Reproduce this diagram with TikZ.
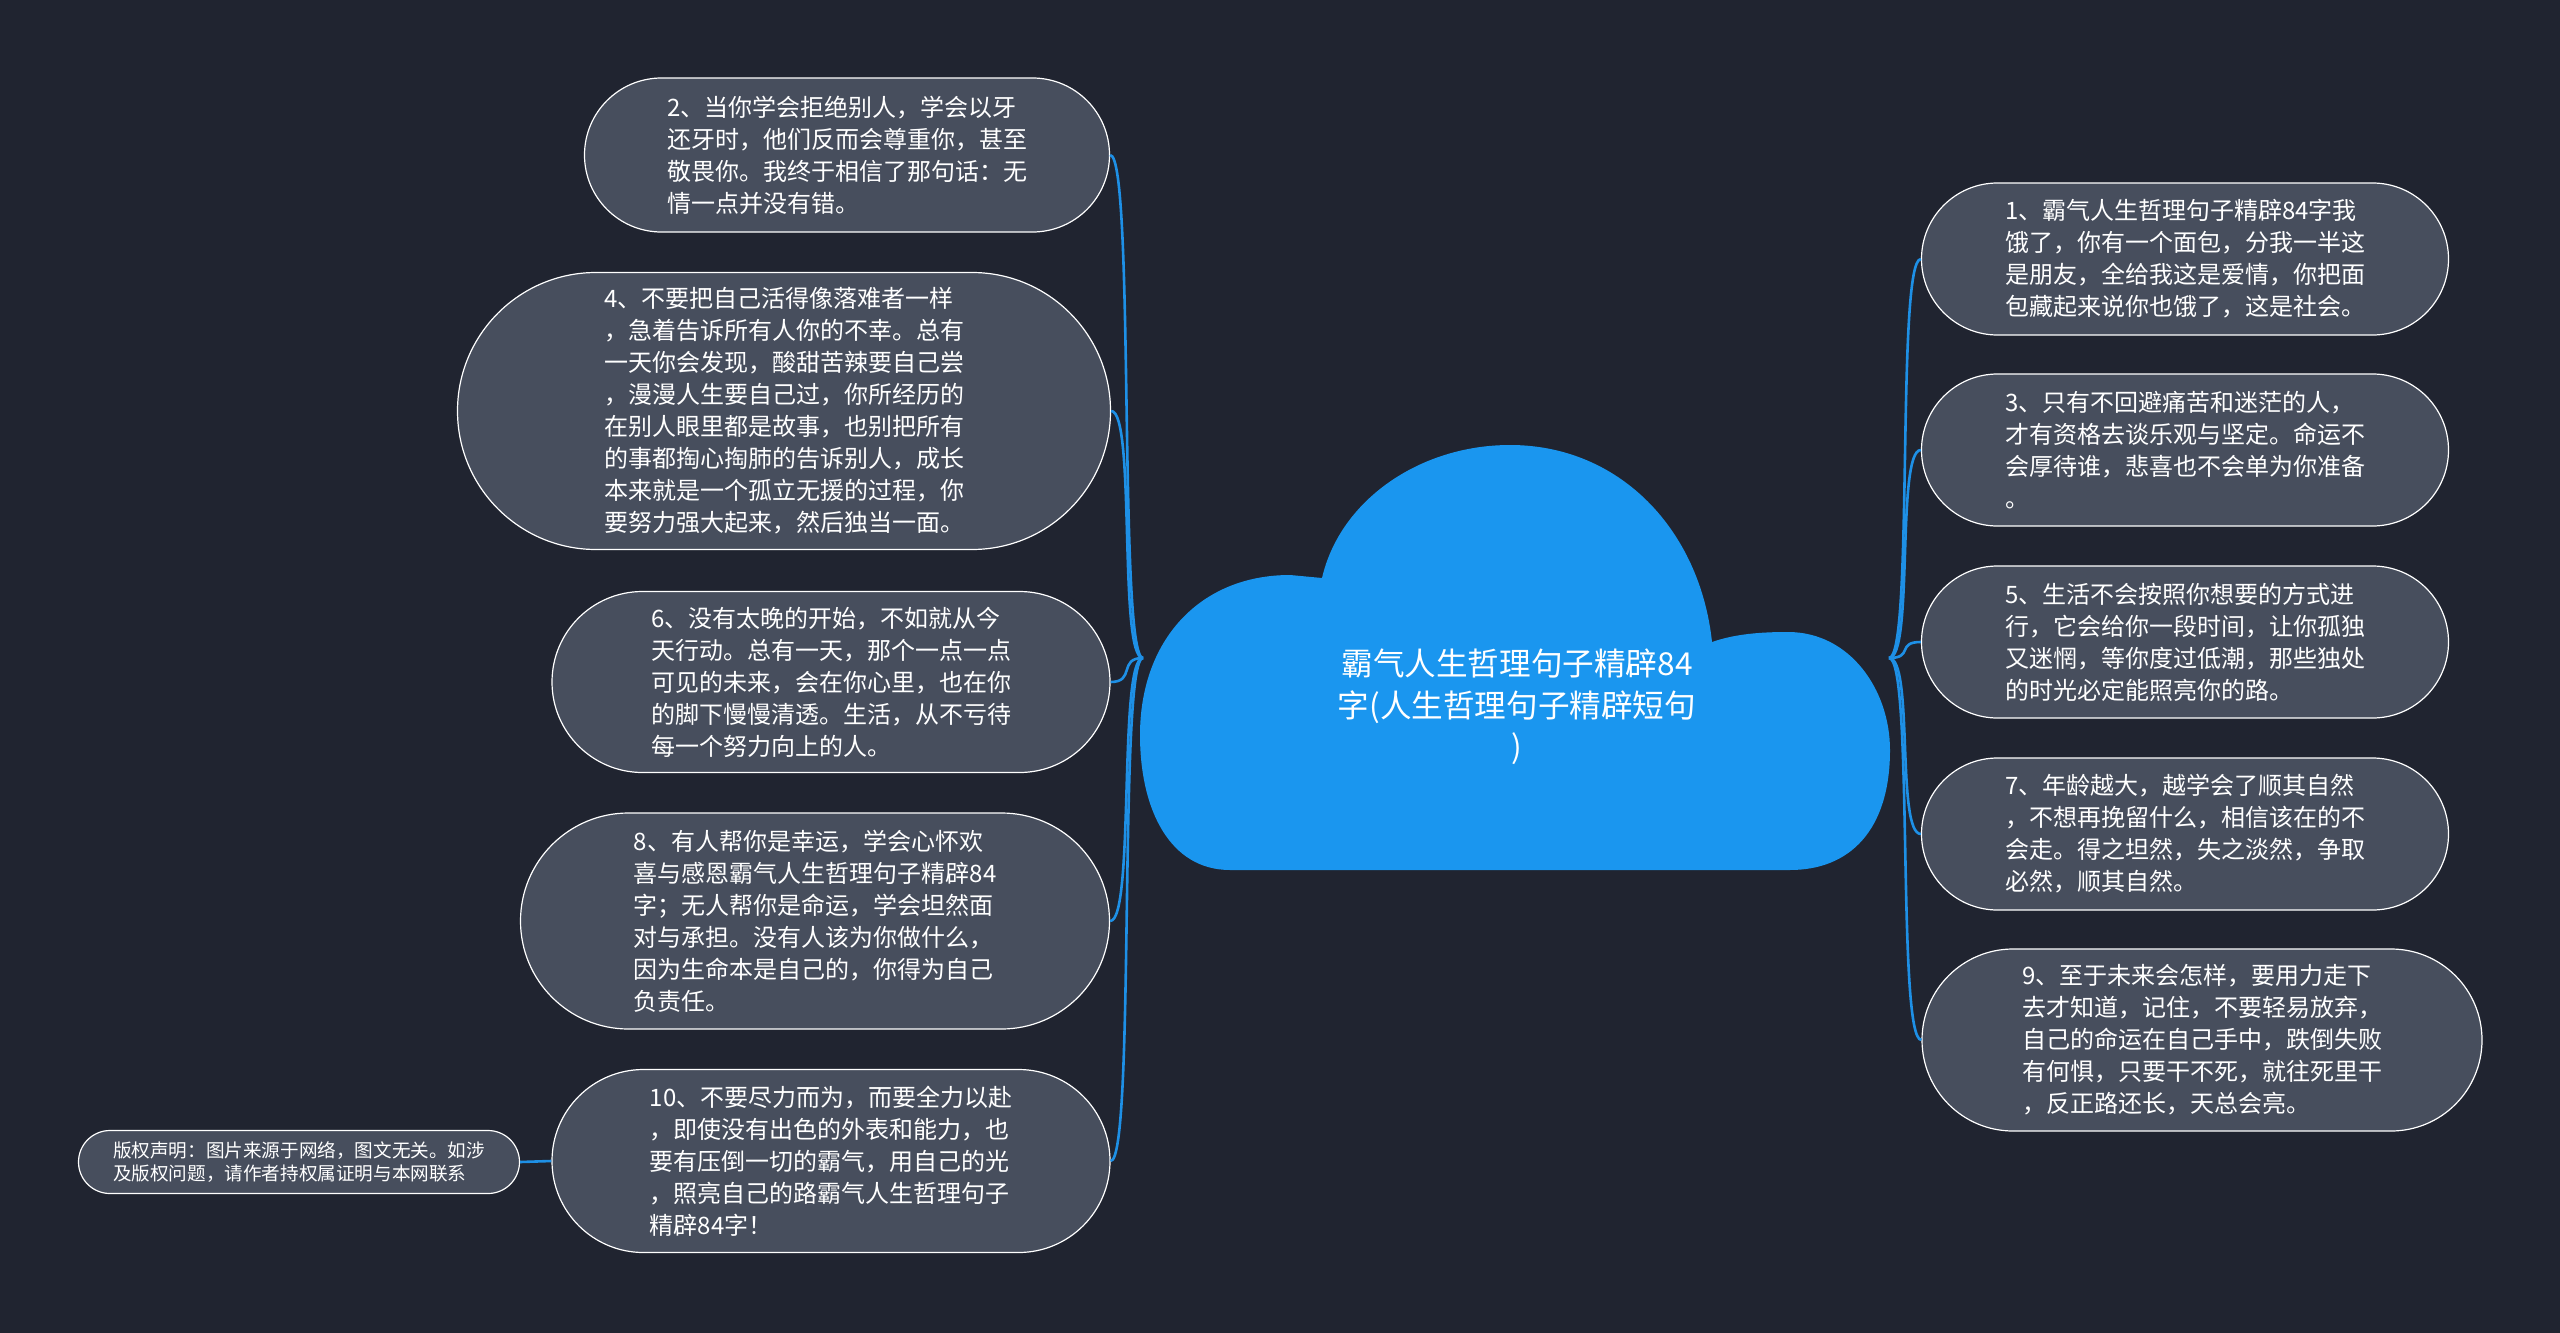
\documentclass[tikz,border=0pt]{standalone}
\usepackage{fontspec}
\setmainfont{Noto Sans CJK SC}
\usetikzlibrary{shapes.misc}
\definecolor{bgnavy}{HTML}{202430}
\definecolor{leafgray}{HTML}{474E5D}
\definecolor{linkblue}{HTML}{1E90E6}
\definecolor{cloudblue}{HTML}{1A96EF}

\begin{document}
\begin{tikzpicture}[x=0.5pt, y=-0.5pt,
    leaf/.style={rounded rectangle, draw=white, line width=0.6pt, fill=leafgray,
      text=white, align=left, inner sep=0pt, font=\fontsize{12}{16}\selectfont},
    note/.style={leaf, font=\fontsize{9.3}{11.5}\selectfont},
    link/.style={draw=linkblue, line width=1.3pt}]
  \fill[bgnavy] (0,0) rectangle (2560,1333);
  \useasboundingbox (0,0) rectangle (2560,1333);

  \fill[cloudblue] (1230,870) .. controls (1170,870) and (1140,810) .. (1140,735)
    .. controls (1140,640) and (1200,575) .. (1290,575) -- (1322,578)
    .. controls (1340,500) and (1420,445) .. (1510,445)
    .. controls (1620,445) and (1700,530) .. (1712,642)
    .. controls (1735,634) and (1760,632) .. (1788,632)
    .. controls (1850,632) and (1890,690) .. (1890,750)
    .. controls (1890,830) and (1850,870) .. (1790,870) -- cycle;
  \node[text=white, align=center, font=\fontsize{15.8}{20.8}\selectfont] (root) at (1517,707)
    {霸气人生哲理句子精辟84\\字(人生哲理句子精辟短句\\)};
  \coordinate (rootL) at (1143,658);
  \coordinate (rootR) at (1889,658);

  \node[leaf, minimum width=262.5pt, minimum height=77pt] (n2) at (847,155)
    {2、当你学会拒绝别人，学会以牙\\还牙时，他们反而会尊重你，甚至\\敬畏你。我终于相信了那句话：无\\情一点并没有错。};
  \node[leaf, minimum width=326.5pt, minimum height=138.5pt] (n4) at (784,411)
    {4、不要把自己活得像落难者一样\\，急着告诉所有人你的不幸。总有\\一天你会发现，酸甜苦辣要自己尝\\，漫漫人生要自己过，你所经历的\\在别人眼里都是故事，也别把所有\\的事都掏心掏肺的告诉别人，成长\\本来就是一个孤立无援的过程，你\\要努力强大起来，然后独当一面。};
  \node[leaf, minimum width=279pt, minimum height=90.5pt] (n6) at (831,682)
    {6、没有太晚的开始，不如就从今\\天行动。总有一天，那个一点一点\\可见的未来，会在你心里，也在你\\的脚下慢慢清透。生活，从不亏待\\每一个努力向上的人。};
  \node[leaf, minimum width=294.5pt, minimum height=108pt] (n8) at (815,921)
    {8、有人帮你是幸运，学会心怀欢\\喜与感恩霸气人生哲理句子精辟84\\字；无人帮你是命运，学会坦然面\\对与承担。没有人该为你做什么，\\因为生命本是自己的，你得为自己\\负责任。};
  \node[leaf, minimum width=279pt, minimum height=91.5pt] (n10) at (831,1161)
    {10、不要尽力而为，而要全力以赴\\，即使没有出色的外表和能力，也\\要有压倒一切的霸气，用自己的光\\，照亮自己的路霸气人生哲理句子\\精辟84字！};
  \node[note, minimum width=220.5pt, minimum height=31.5pt] (copyright) at (299,1162)
    {版权声明：图片来源于网络，图文无关。如涉\\及版权问题，请作者持权属证明与本网联系};

  \node[leaf, minimum width=263.5pt, minimum height=76pt] (n1) at (2185,259)
    {1、霸气人生哲理句子精辟84字我\\饿了，你有一个面包，分我一半这\\是朋友，全给我这是爱情，你把面\\包藏起来说你也饿了，这是社会。};
  \node[leaf, minimum width=263.5pt, minimum height=76pt] (n3) at (2185,450)
    {3、只有不回避痛苦和迷茫的人，\\才有资格去谈乐观与坚定。命运不\\会厚待谁，悲喜也不会单为你准备\\。};
  \node[leaf, minimum width=263.5pt, minimum height=76pt] (n5) at (2185,642)
    {5、生活不会按照你想要的方式进\\行，它会给你一段时间，让你孤独\\又迷惘，等你度过低潮，那些独处\\的时光必定能照亮你的路。};
  \node[leaf, minimum width=263.5pt, minimum height=76pt] (n7) at (2185,834)
    {7、年龄越大，越学会了顺其自然\\，不想再挽留什么，相信该在的不\\会走。得之坦然，失之淡然，争取\\必然，顺其自然。};
  \node[leaf, minimum width=280pt, minimum height=91pt] (n9) at (2202,1040)
    {9、至于未来会怎样，要用力走下\\去才知道，记住，不要轻易放弃，\\自己的命运在自己手中，跌倒失败\\有何惧，只要干不死，就往死里干\\，反正路还长，天总会亮。};

  \foreach \leafname in {n2,n4,n6,n8,n10}
    \draw[link] (rootL) .. controls +(-25,0) and +(25,0) .. (\leafname.east);
  \foreach \leafname in {n1,n3,n5,n7,n9}
    \draw[link] (rootR) .. controls +(25,0) and +(-25,0) .. (\leafname.west);
  \draw[link] (n10.west) -- (copyright.east);
\end{tikzpicture}
\end{document}
